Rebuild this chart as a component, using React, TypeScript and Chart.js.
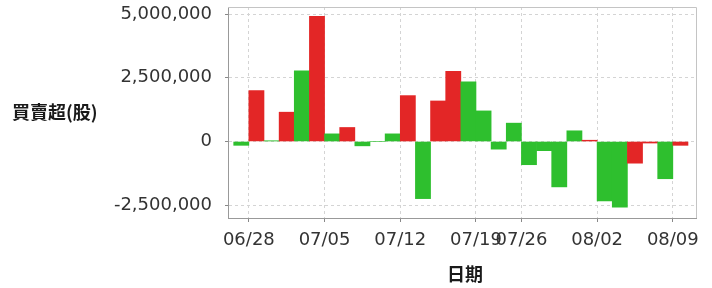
import React, { useEffect, useRef } from 'react';
import { Chart, registerables } from 'chart.js';

Chart.register(...registerables);

// Trading days (segmented timeline, one bar per trading day)
const dates = [
  '06/27', '06/28', '07/01', '07/02', '07/03', '07/04', '07/05', '07/08', '07/09', '07/10',
  '07/11', '07/12', '07/15', '07/16', '07/17', '07/18', '07/19', '07/22', '07/23', '07/26',
  '07/29', '07/30', '07/31', '08/01', '08/02', '08/05', '08/06', '08/07', '08/08', '08/09',
];

// Net buy / sell (shares)
const netShares = [
  -150000, 2000000, 30000, 1150000, 2770000, 4910000, 300000, 550000, -170000, 0,
  300000, 1800000, -2240000, 1590000, 2750000, 2340000, 1200000, -300000, 720000, -910000,
  -360000, -1780000, 420000, 50000, -2330000, -2580000, -850000, -60000, -1460000, -150000,
];

// 1 = red bar, 0 = green bar
const redFlags = [
  0, 1, 0, 1, 0, 1, 0, 1, 0, 0,
  0, 1, 0, 1, 1, 0, 0, 0, 0, 0,
  0, 0, 0, 1, 0, 0, 1, 1, 0, 1,
];

const tickDates = ['06/28', '07/05', '07/12', '07/19', '07/26', '08/02', '08/09'];
const yTickValues = [-2500000, 0, 2500000, 5000000];
const yTitle = '買賣超(股)';
const xTitle = '日期';

const RED = '#e32626';
const GREEN = '#2ebf2e';

export default function App() {
  const ref = useRef<HTMLCanvasElement>(null);

  useEffect(() => {
    document.body.style.margin = '0';
    const canvas = ref.current!;

    const titlePlugin = {
      id: 'titles',
      afterDraw(chart: any) {
        const { ctx, chartArea } = chart;
        ctx.save();
        // frame (top / right lighter)
        ctx.strokeStyle = '#c4c4c4';
        ctx.lineWidth = 1;
        ctx.beginPath();
        ctx.moveTo(chartArea.left, chartArea.top + 0.5);
        ctx.lineTo(chartArea.right + 0.5, chartArea.top + 0.5);
        ctx.lineTo(chartArea.right + 0.5, chartArea.bottom);
        ctx.stroke();
        ctx.fillStyle = '#1a1a1a';
        ctx.font = 'bold 18px "Noto Sans CJK TC"';
        ctx.textAlign = 'left';
        ctx.textBaseline = 'middle';
        ctx.fillText(yTitle, 12, (chartArea.top + chartArea.bottom) / 2);
        ctx.textAlign = 'center';
        ctx.fillText(xTitle, (chartArea.left + chartArea.right) / 2 + 3, 274);
        ctx.restore();
      },
    };

    const chart = new Chart(canvas, {
      type: 'bar',
      data: {
        datasets: [
          {
            data: netShares.map((v, i) => ({ x: i, y: v })),
            backgroundColor: redFlags.map((r) => (r ? RED : GREEN)),
            borderWidth: 0,
            barPercentage: 1,
            categoryPercentage: 1,
          },
        ],
      },
      options: {
        animation: false,
        responsive: false,
        layout: { padding: { top: 7, right: 16, left: 0, bottom: 0 } },
        plugins: { legend: { display: false }, tooltip: { enabled: false } },
        scales: {
          x: {
            type: 'linear',
            min: -0.877,
            max: 30.03,
            offset: false,
            afterBuildTicks: (s: any) => {
              s.ticks = tickDates.map((d) => ({ value: dates.indexOf(d) - 0.5 }));
            },
            afterFit: (s: any) => {
              s.height = 70;
              s.paddingLeft = 0;
              s.paddingRight = 0;
            },
            ticks: {
              autoSkip: false,
              maxRotation: 0,
              minRotation: 0,
              padding: 8,
              color: '#333',
              font: { family: 'DejaVu Sans', size: 18 },
              callback: (v: any) => {
                const i = Math.round(Number(v) + 0.5);
                return dates[i] ?? '';
              },
            },
            grid: {
              offset: false,
              color: '#d4d4d4',
              lineWidth: 1,
              tickLength: 4,
              tickColor: '#888',
              tickBorderDash: [],
            },
            border: { display: true, color: '#999', width: 1, dash: [3, 3] },
          },
          y: {
            type: 'linear',
            min: -3000000,
            max: 5275000,
            afterBuildTicks: (s: any) => {
              s.ticks = yTickValues.map((v) => ({ value: v }));
            },
            afterFit: (s: any) => {
              s.width = 228;
              s.paddingTop = 0;
              s.paddingBottom = 0;
            },
            ticks: {
              padding: 13,
              color: '#333',
              font: { family: 'DejaVu Sans', size: 18 },
              callback: (v: any) => Number(v).toLocaleString('en-US'),
            },
            grid: {
              color: '#d4d4d4',
              lineWidth: 1,
              tickLength: 3,
              tickColor: '#888',
              tickBorderDash: [],
            },
            border: { display: true, color: '#999', width: 1, dash: [3, 3] },
          },
        },
      },
      plugins: [titlePlugin],
    });

    return () => chart.destroy();
  }, []);

  return (
    <div style={{ position: 'absolute', left: 0, top: 0, width: 712, height: 288 }}>
      <canvas ref={ref} width={712} height={288} style={{ width: 712, height: 288 }} />
    </div>
  );
}
